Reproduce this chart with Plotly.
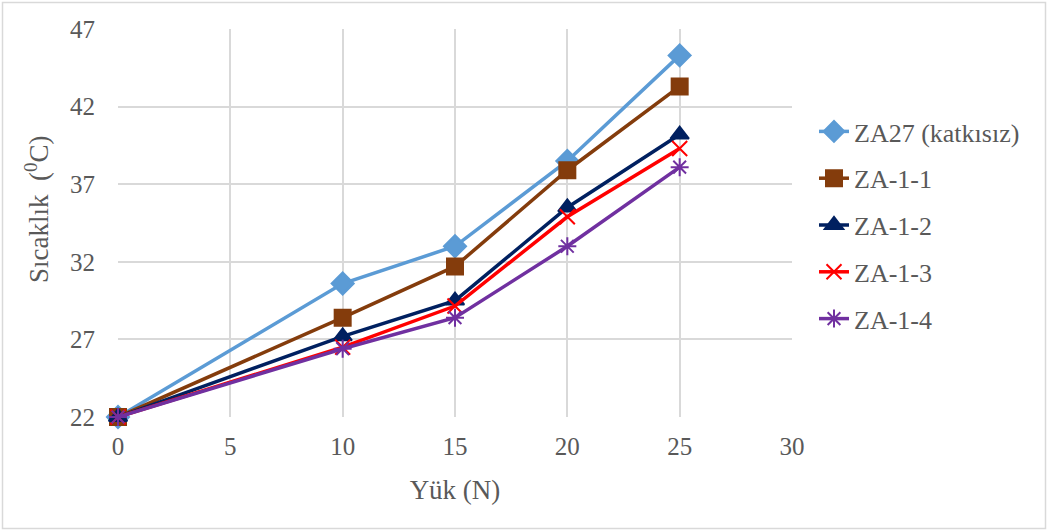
import plotly.graph_objects as go

# Load (N) vs temperature (°C) for each alloy
loads = [0, 10, 15, 20, 25]
za27 = [22, 30.6, 33.0, 38.5, 45.3]
za_1_1 = [22, 28.4, 31.7, 37.9, 43.3]
za_1_2 = [22, 27.2, 29.5, 35.5, 40.2]
za_1_3 = [22, 26.5, 29.15, 34.9, 39.3]
za_1_4 = [22, 26.4, 28.4, 33.0, 38.1]

series = [
    ("ZA27 (katkısız)", za27, "#5B9BD5", "diamond", 17),
    ("ZA-1-1", za_1_1, "#843C0C", "square", 16),
    ("ZA-1-2", za_1_2, "#002060", "triangle-up", 16),
    ("ZA-1-3", za_1_3, "#FF0000", "x-thin-open", 15),
    ("ZA-1-4", za_1_4, "#7030A0", "asterisk-open", 15),
]

W, H = 1048, 531
L, R, T, B = 118, 792, 29, 417

fig = go.Figure()
for i, (name, vals, color, sym, size) in enumerate(series):
    fig.add_trace(go.Scatter(
        x=loads, y=vals, name=name, mode="lines+markers",
        line=dict(color=color, width=3.5),
        marker=dict(symbol=sym, size=size, color=color,
                    line=dict(color=color, width=2)),
        cliponaxis=False, legendgroup=f"g{i}",
    ))

FF = "Liberation Serif"
grid = "#D9D9D9"
text_col = "#595959"

def f(size):
    return dict(family=FF, size=size, color=text_col)

pw, ph = R - L, B - T

fig.update_layout(
    width=W, height=H,
    margin=dict(l=L, r=W - R, t=T, b=H - B),
    paper_bgcolor="white", plot_bgcolor="white",
    font=f(24),
    showlegend=True,
    legend=dict(x=(814 - L) / pw, y=(417 - 108) / ph, yanchor="top",
                xanchor="left", font=f(26),
                tracegroupgap=10, bgcolor="rgba(0,0,0,0)"),
    xaxis=dict(range=[0, 30], tick0=0, dtick=5, showgrid=True, gridcolor=grid,
               gridwidth=1.5, zeroline=False, showline=False, ticks="",
               tickfont=f(25), ticklabelstandoff=12,
               title=dict(text="Yük (N)", font=f(27), standoff=21)),
    yaxis=dict(range=[22, 47], tick0=22, dtick=5, showgrid=True, gridcolor=grid,
               gridwidth=1.5, zeroline=False, showline=False, ticks="",
               tickfont=f(25), ticklabelstandoff=22),
)

# Vertical axis title
fig.add_annotation(text="Sıcaklık  (<sup>0</sup>C)", textangle=-90,
                   xref="paper", yref="paper",
                   x=(37 - L) / pw, y=(B - 210) / ph,
                   xanchor="center", yanchor="middle", showarrow=False,
                   font=f(27))

# Outer chart frame
fig.add_shape(type="rect", xref="paper", yref="paper",
              x0=(2.5 - L) / pw, x1=(1045.5 - L) / pw,
              y0=(B - 528.5) / ph, y1=(B - 2.5) / ph,
              line=dict(color=grid, width=1.5), layer="below")

fig.write_html("out.html")
